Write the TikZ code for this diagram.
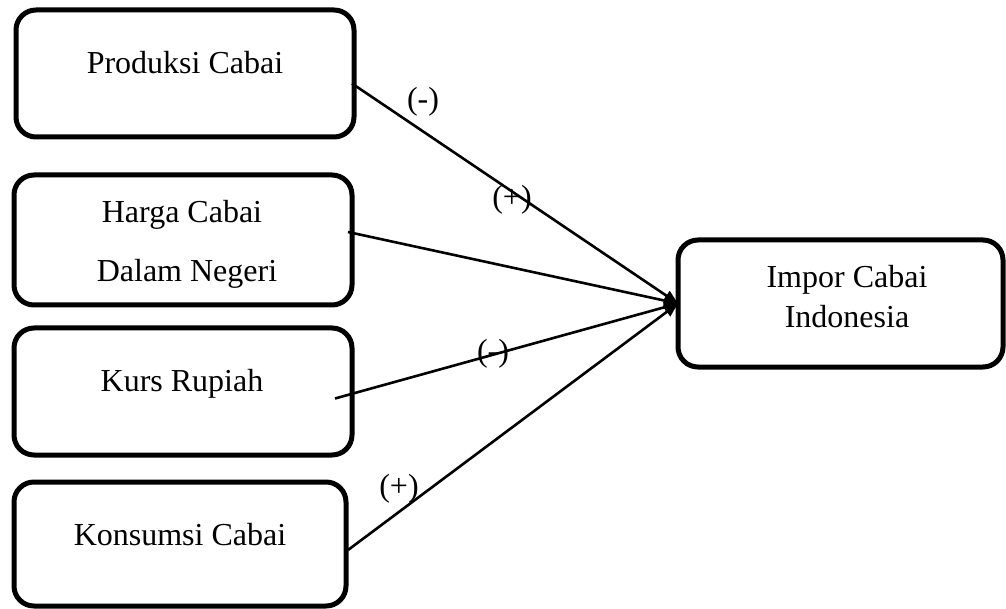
\documentclass[tikz,border=0pt]{standalone}
\usepackage{fontspec}
\setmainfont{Liberation Serif}
\usetikzlibrary{arrows.meta,calc}
\tikzset{
  rbox/.style={draw=black, line width=5pt, rounded corners=20pt, inner sep=0pt, outer sep=0pt},
  txt/.style={font=\fontsize{32}{38}\selectfont, inner sep=0pt, anchor=base},
  lbl/.style={font=\fontsize{32}{38}\selectfont, inner sep=0pt},
  conn/.style={line width=2.6pt, -{Triangle[length=14pt,width=11pt]}}
}
\begin{document}
\begin{tikzpicture}[x=1pt,y=-1pt]
\useasboundingbox (0,0) rectangle (1006,609);
% boxes
\node[rbox, minimum width=338pt, minimum height=127pt] (b1) at (185,73.5) {};
\node[rbox, minimum width=338pt, minimum height=130pt] (b2) at (183,240) {};
\node[rbox, minimum width=338pt, minimum height=127pt] (b3) at (183,391.5) {};
\node[rbox, minimum width=332pt, minimum height=124pt] (b4) at (180,544) {};
\node[rbox, minimum width=325pt, minimum height=127pt] (out) at (840.5,303.5) {};
% texts
\node[txt] (t1) at (185,74) {Produksi Cabai};
\node[txt] (t2a) at (182,223) {Harga Cabai};
\node[txt] (t2b) at (187,282) {Dalam Negeri};
\node[txt] (t3) at (182,391) {Kurs Rupiah};
\node[txt] (t4) at (180,545) {Konsumsi Cabai};
\node[txt] (t5a) at (847,288) {Impor Cabai};
\node[txt] (t5b) at (847,327) {Indonesia};
% start points
\coordinate (s1) at ($(b1.east)+(-2,10)$);
\coordinate (s2) at ($(b2.east)+(-4,-8)$);
\coordinate (s3) at ($(b3.east)+(-17,7)$);
\coordinate (s4) at ($(b4.east)+(2,6)$);
% connectors
\draw[conn] (s1) -- (out.west);
\draw[conn] (s2) -- (out.west);
\draw[conn] (s3) -- (out.west);
\draw[conn] (s4) -- (out.west);
% labels
\node[lbl] (l1) at (423,102) {(-)};
\node[lbl] (l2) at (512,200) {(+)};
\node[lbl] (l3) at (493,354) {(-)};
\node[lbl] (l4) at (399,489) {(+)};
\end{tikzpicture}
\end{document}
